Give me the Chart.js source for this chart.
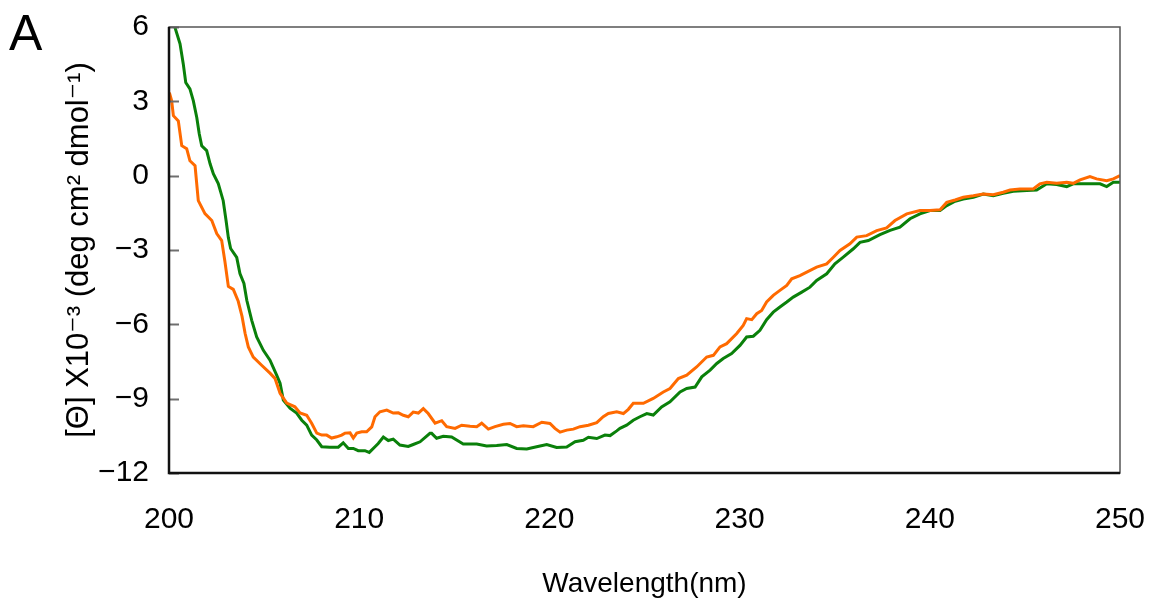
<!DOCTYPE html>
<html>
<head>
<meta charset="utf-8">
<script src="https://cdn.jsdelivr.net/npm/chart.js@4/dist/chart.umd.min.js"></script>
<style>
html,body{margin:0;padding:0;background:#fff;}
#wrap{width:1150px;height:605px;position:relative;}
</style>
</head>
<body>
<div id="wrap"><canvas id="c" width="1150" height="605"></canvas></div>
<script>
// ---- data (wavelength nm, [Θ] x10^-3) ----
const wlOrange = [200.02,200.14,200.23,200.49,200.67,200.93,201.10,201.37,201.54,201.89,202.25,202.51,202.77,202.94,203.12,203.38,203.64,203.84,204.00,204.17,204.43,204.87,205.31,205.57,205.84,206.19,206.62,206.89,207.24,207.50,207.77,208.03,208.29,208.55,208.82,209.08,209.25,209.52,209.69,209.87,210.13,210.39,210.66,210.83,211.09,211.45,211.79,212.06,212.32,212.58,212.84,213.11,213.37,213.63,213.99,214.34,214.60,215.04,215.39,215.83,216.18,216.44,216.79,217.14,217.58,217.93,218.28,218.63,219.15,219.60,220.03,220.29,220.56,220.91,221.26,221.61,222.05,222.49,222.83,223.10,223.54,223.89,224.15,224.41,224.94,225.46,225.99,226.34,226.78,227.22,227.74,228.27,228.62,228.97,229.32,229.85,230.19,230.37,230.64,230.90,231.16,231.42,231.77,232.12,232.48,232.74,233.17,233.53,234.05,234.58,234.93,235.28,235.80,236.16,236.68,237.21,237.73,238.17,238.79,239.48,240.01,240.54,240.89,241.33,241.76,242.29,242.81,243.34,243.86,244.22,244.74,245.44,245.79,246.15,246.67,247.20,247.54,247.90,248.42,248.77,249.30,249.65,250.00];
const cdOrange = [3.35,3.02,2.42,2.21,1.21,1.09,0.60,0.40,-1.01,-1.53,-1.81,-2.34,-2.62,-3.46,-4.47,-4.59,-5.07,-5.68,-6.36,-6.91,-7.32,-7.65,-7.97,-8.18,-8.78,-9.18,-9.33,-9.58,-9.67,-9.99,-10.39,-10.47,-10.47,-10.59,-10.54,-10.47,-10.39,-10.38,-10.59,-10.39,-10.34,-10.34,-10.14,-9.73,-9.53,-9.46,-9.58,-9.57,-9.67,-9.73,-9.54,-9.58,-9.40,-9.60,-9.99,-9.89,-10.13,-10.20,-10.07,-10.11,-10.13,-9.99,-10.23,-10.13,-10.03,-10.00,-10.13,-10.09,-10.13,-9.95,-10.00,-10.20,-10.35,-10.27,-10.23,-10.13,-10.07,-9.97,-9.73,-9.60,-9.53,-9.60,-9.43,-9.19,-9.19,-8.99,-8.73,-8.59,-8.19,-8.05,-7.72,-7.32,-7.25,-6.91,-6.78,-6.37,-6.04,-5.77,-5.81,-5.57,-5.44,-5.10,-4.83,-4.63,-4.43,-4.16,-4.03,-3.89,-3.69,-3.56,-3.29,-3.02,-2.75,-2.48,-2.42,-2.22,-2.11,-1.81,-1.54,-1.41,-1.41,-1.38,-1.08,-0.98,-0.87,-0.81,-0.74,-0.77,-0.67,-0.58,-0.54,-0.54,-0.33,-0.27,-0.31,-0.27,-0.31,-0.17,-0.04,-0.13,-0.20,-0.13,0.00];

const wlGreen = [200.00,200.32,200.58,200.75,200.88,201.10,201.28,201.46,201.59,201.72,201.98,202.16,202.33,202.59,202.85,203.00,203.12,203.24,203.56,203.73,203.94,204.09,204.35,204.61,204.96,205.31,205.66,205.84,206.01,206.36,206.71,206.98,207.24,207.50,207.77,208.03,208.46,208.90,209.16,209.43,209.69,209.95,210.30,210.53,210.83,211.00,211.27,211.53,211.79,212.14,212.58,212.84,213.20,213.72,213.81,214.07,214.42,214.86,215.47,216.18,216.70,217.23,217.76,218.28,218.81,219.33,219.86,220.38,220.91,221.35,221.78,222.05,222.49,222.92,223.19,223.54,223.71,224.06,224.41,224.76,225.12,225.46,225.90,226.34,226.87,227.22,227.66,228.01,228.45,228.80,229.14,229.58,230.02,230.37,230.72,231.07,231.42,231.77,232.12,232.48,232.82,233.27,233.70,234.05,234.58,235.01,235.45,235.98,236.33,236.77,237.38,237.91,238.43,238.96,239.48,240.01,240.54,240.89,241.33,241.76,242.29,242.81,243.34,243.86,244.39,245.10,245.62,246.15,246.67,247.20,247.54,248.25,248.95,249.30,249.65,250.00];
const cdGreen = [6.40,5.97,5.32,4.51,3.76,3.50,3.02,2.35,1.69,1.21,1.01,0.48,0.08,-0.32,-1.01,-1.81,-2.50,-2.94,-3.30,-3.95,-4.35,-5.03,-5.84,-6.51,-7.05,-7.45,-8.05,-8.38,-9.06,-9.38,-9.58,-9.87,-10.07,-10.47,-10.67,-10.94,-10.96,-10.96,-10.78,-11.01,-11.01,-11.10,-11.10,-11.17,-10.94,-10.81,-10.55,-10.69,-10.63,-10.87,-10.93,-10.85,-10.74,-10.40,-10.40,-10.60,-10.52,-10.55,-10.83,-10.83,-10.91,-10.89,-10.85,-11.01,-11.03,-10.94,-10.85,-10.97,-10.95,-10.74,-10.68,-10.56,-10.61,-10.47,-10.49,-10.30,-10.20,-10.07,-9.87,-9.73,-9.60,-9.66,-9.33,-9.13,-8.73,-8.59,-8.53,-8.12,-7.85,-7.58,-7.38,-7.18,-6.85,-6.51,-6.48,-6.24,-5.81,-5.51,-5.30,-5.10,-4.90,-4.70,-4.50,-4.23,-3.96,-3.56,-3.29,-2.95,-2.69,-2.62,-2.38,-2.21,-2.08,-1.74,-1.54,-1.41,-1.41,-1.21,-1.03,-0.94,-0.87,-0.74,-0.81,-0.71,-0.63,-0.60,-0.58,-0.33,-0.36,-0.44,-0.33,-0.33,-0.33,-0.44,-0.27,-0.27];

const xTicks = [200,210,220,230,240,250];
const yTicks = [-12,-9,-6,-3,0,3,6];
const xTitle = 'Wavelength(nm)';
const yTitle = '[Θ] X10⁻³ (deg cm² dmol⁻¹)';
const panelLabel = 'A';

const toPts = (xs, ys) => xs.map((x, i) => ({x: x, y: ys[i]}));

const FONT = "'Liberation Sans', Arial, 'DejaVu Sans', sans-serif";

const framePlugin = {
  id: 'frame',
  afterDatasetsDraw(chart) {
    const {ctx, chartArea: a, scales} = chart;
    ctx.save();
    // inward ticks on y axis
    ctx.strokeStyle = '#6e6e6e';
    ctx.lineWidth = 2;
    yTicks.forEach(v => {
      const py = Math.round(scales.y.getPixelForValue(v)) + 0.5;
      ctx.beginPath();
      ctx.moveTo(a.left, py);
      ctx.lineTo(a.left + 10, py);
      ctx.stroke();
    });
    // box
    ctx.strokeStyle = '#555';
    ctx.lineWidth = 1.5;
    ctx.strokeRect(a.left, a.top, a.right - a.left, a.bottom - a.top);
    ctx.strokeStyle = '#111';
    ctx.lineWidth = 2.5;
    ctx.beginPath();
    ctx.moveTo(a.left, a.top);
    ctx.lineTo(a.left, a.bottom);
    ctx.lineTo(a.right, a.bottom);
    ctx.stroke();
    // panel label
    ctx.fillStyle = '#000';
    ctx.font = '50px ' + FONT;
    ctx.textAlign = 'left';
    ctx.textBaseline = 'alphabetic';
    ctx.fillText(panelLabel, 9, 50);
    ctx.restore();
  }
};

new Chart(document.getElementById('c'), {
  type: 'line',
  data: {
    datasets: [
      {label: 'orange', data: toPts(wlOrange, cdOrange), borderColor: '#ff6a00', borderWidth: 3, pointRadius: 0, tension: 0, fill: false},
      {label: 'green', data: toPts(wlGreen, cdGreen), borderColor: '#0a800a', borderWidth: 3, pointRadius: 0, tension: 0, fill: false}
    ]
  },
  options: {
    responsive: false,
    animation: false,
    events: [],
    layout: {padding: {left: 0, right: 30, top: 27, bottom: 0}},
    plugins: {legend: {display: false}, tooltip: {enabled: false}},
    scales: {
      x: {
        type: 'linear', min: 200, max: 250,
        afterBuildTicks: s => { s.ticks = xTicks.map(v => ({value: v})); },
        afterFit: s => { s.height = 132; s.paddingLeft = 0; s.paddingRight = 0; },
        grid: {display: false, drawTicks: false},
        border: {display: false},
        ticks: {padding: 29, color: '#000', font: {family: FONT, size: 30}, maxRotation: 0},
        title: {display: true, text: xTitle, color: '#000', font: {family: FONT, size: 28}, padding: {top: 0, bottom: 4}}
      },
      y: {
        type: 'linear', min: -12, max: 6,
        afterBuildTicks: s => { s.ticks = yTicks.map(v => ({value: v})); },
        afterFit: s => { s.width = 169; s.paddingTop = 0; s.paddingBottom = 0; },
        grid: {display: false, drawTicks: false},
        border: {display: false},
        ticks: {padding: 20, color: '#000', font: {family: FONT, size: 30},
          callback: v => String(v).replace('-', '\u2212')},
        title: {display: true, text: yTitle, color: '#000', font: {family: FONT, size: 31}, padding: {top: 61, bottom: 0}}
      }
    }
  },
  plugins: [framePlugin]
});
</script>
</body>
</html>
